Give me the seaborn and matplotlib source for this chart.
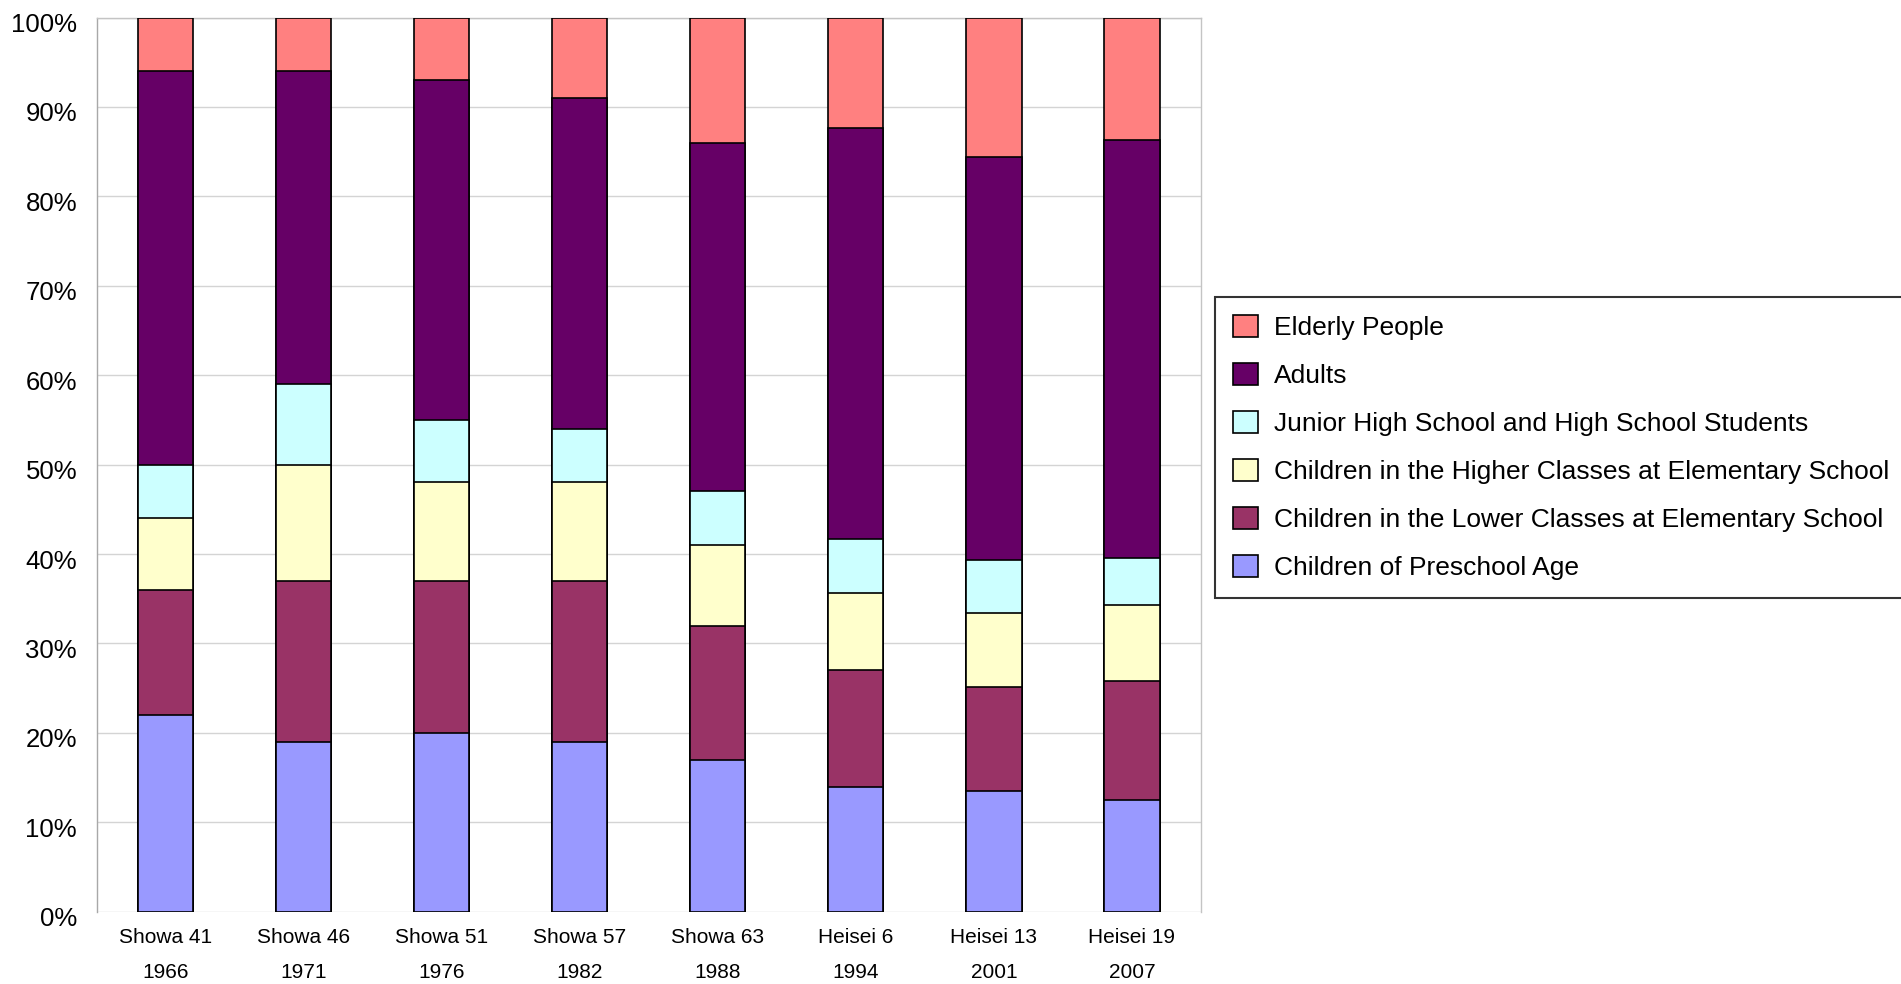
import matplotlib
matplotlib.use("Agg")
import matplotlib.pyplot as plt
import matplotlib.transforms as mtransforms
from matplotlib.ticker import FixedLocator, PercentFormatter
import numpy as np
import pandas as pd
import seaborn as sns

# ---- data -------------------------------------------------------------
eras = ["Showa 41", "Showa 46", "Showa 51", "Showa 57", "Showa 63",
        "Heisei 6", "Heisei 13", "Heisei 19"]
years = ["1966", "1971", "1976", "1982", "1988", "1994", "2001", "2007"]

preschool = [22, 19, 20, 19, 17, 13.9, 13.5, 12.5]
lower_elem = [14, 18, 17, 18, 15, 13.1, 11.6, 13.3]
higher_elem = [8, 13, 11, 11, 9, 8.6, 8.3, 8.5]
junior_high = [6, 9, 7, 6, 6, 6.1, 5.9, 5.2]
adults = [44, 35, 38, 37, 39, 45.9, 45.1, 46.8]
elderly = [6, 6, 7, 9, 14, 12.4, 15.6, 13.7]

series_names = ["Children of Preschool Age",
                "Children in the Lower Classes at Elementary School",
                "Children in the Higher Classes at Elementary School",
                "Junior High School and High School Students",
                "Adults",
                "Elderly People"]
series_colors = ["#9999FF", "#993366", "#FFFFCC", "#CCFFFF", "#660066", "#FF8080"]

# ---- figure -----------------------------------------------------------
sns.set_theme(style="white")
plt.rcParams["font.family"] = ["Liberation Sans", "DejaVu Sans"]
plt.rcParams["text.color"] = "black"
plt.rcParams["xtick.color"] = "black"
plt.rcParams["ytick.color"] = "black"
plt.rcParams["xtick.labelcolor"] = "black"
plt.rcParams["ytick.labelcolor"] = "black"

fig = plt.figure(figsize=(19.01, 9.84), dpi=100)
ax = fig.add_axes([96.5 / 1901, 1 - 911.7 / 984, (1201 - 96.5) / 1901, (911.7 - 17.5) / 984])

values = [preschool, lower_elem, higher_elem, junior_high, adults, elderly]
df = pd.DataFrame({name: vals for name, vals in zip(series_names, values)})
df["era"] = eras
cum = df[series_names].cumsum(axis=1)

# draw from the top layer down so lower layers overlay
for name, color in zip(reversed(series_names), reversed(series_colors)):
    sns.barplot(x=df["era"], y=cum[name], color=color, width=0.4,
                edgecolor="black", linewidth=1.2, saturation=1,
                label=name, ax=ax, zorder=3)

handles, labels = ax.get_legend_handles_labels()
if ax.get_legend() is not None:
    ax.get_legend().remove()

ax.set_xlim(-0.5, len(eras) - 0.5)
ax.set_ylim(0, 100)
ax.set_xlabel("")
ax.set_ylabel("")

# grid
ax.yaxis.set_major_locator(FixedLocator(np.arange(0, 101, 10)))
ax.yaxis.set_major_formatter(PercentFormatter(decimals=0))
ax.grid(axis="y", color="#d4d4d4", linewidth=1.0, zorder=0)
ax.grid(axis="x", visible=False)
ax.set_axisbelow(True)

# spines
for s in ["left", "top", "right"]:
    ax.spines[s].set_visible(True)
    ax.spines[s].set_color("#c4c4c4")
    ax.spines[s].set_linewidth(1.0)
ax.spines["left"].set_color("#a8a8a8")
ax.spines["bottom"].set_visible(False)

# y tick labels
ax.tick_params(axis="y", length=0, pad=14)
for lab in ax.get_yticklabels():
    lab.set_fontsize(18.5)
    lab.set_color("black")
    lab.set_transform(lab.get_transform() +
                      mtransforms.ScaledTranslation(0, -5 / 100, fig.dpi_scale_trans))

# x tick labels (two lines)
ax.set_xticks(range(len(eras)))
ax.set_xticklabels([f"{e}\n{y}" for e, y in zip(eras, years)],
                   fontsize=15, linespacing=2.02, color="black")
ax.tick_params(axis="x", length=0, pad=12)
ax.set_xticks(np.arange(0.5, len(eras) - 0.5, 1.0), minor=True)
ax.tick_params(axis="x", which="minor", direction="in", length=6,
               color="#c8c8c8", width=1.0)

# legend
leg = fig.legend(handles, labels, loc="upper left",
                 bbox_to_anchor=(1215 / 1901, 1 - 297 / 984, 0.4, 0.0),
                 mode="expand", borderaxespad=0, fontsize=19,
                 frameon=True, fancybox=False, edgecolor="black",
                 handlelength=0.95, handleheight=0.9, handletextpad=0.62,
                 labelspacing=0.87, borderpad=0.68)
leg.get_frame().set_linewidth(1.5)
leg.get_frame().set_facecolor("white")
for t in leg.get_texts():
    t.set_color("black")
for h in leg.legend_handles:
    h.set_edgecolor("black")
    h.set_linewidth(1.2)

fig.savefig("out.png", dpi=100)
